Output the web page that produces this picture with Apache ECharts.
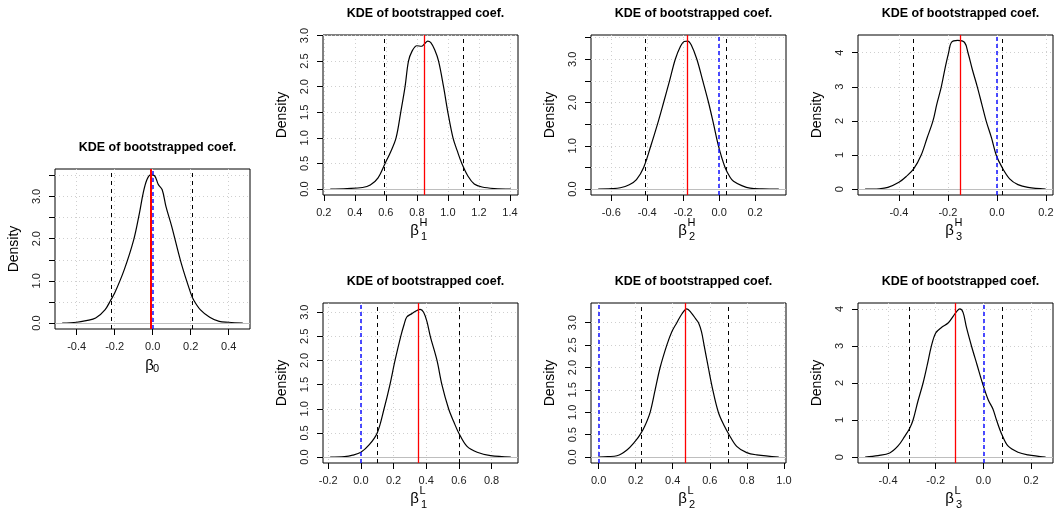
<!DOCTYPE html>
<html><head><meta charset="utf-8">
<script src="https://cdn.jsdelivr.net/npm/echarts@6/dist/echarts.min.js"></script>
<style>html,body{margin:0;padding:0;background:#fff;} #c{width:1055px;height:513px;}</style>
</head><body><div id="c"></div>
<script>
// ---------- DATA ----------
const titleText = 'KDE of bootstrapped coef.';
const xSub = ['0', '1', '2', '3', '1', '2', '3'];
const xSup = ['', 'H', 'H', 'H', 'L', 'L', 'L'];

const b0X = [-0.476,-0.4,-0.35,-0.3,-0.25,-0.22,-0.2,-0.15,-0.1,-0.07,-0.05,-0.03,-0.01,0.01,0.03,0.05,0.07,0.1,0.15,0.2,0.215,0.25,0.3,0.35,0.4,0.474];
const b0Y = [0,0.02,0.06,0.12,0.32,0.55,0.71,1.26,1.97,2.6,3.08,3.4,3.51,3.49,3.28,3.16,2.76,2.29,1.42,0.71,0.55,0.32,0.14,0.04,0.02,0];

const b1HX = [0.242,0.35,0.45,0.5,0.55,0.595,0.63,0.666,0.696,0.724,0.746,0.77,0.8,0.83,0.85,0.87,0.89,0.915,0.94,0.972,1.0,1.033,1.06,1.09,1.13,1.17,1.22,1.3,1.406];
const b1HY = [0,0.01,0.03,0.08,0.22,0.5,0.72,1.0,1.5,2.0,2.5,2.7,2.8,2.79,2.84,2.89,2.86,2.72,2.5,2.0,1.5,1.0,0.75,0.5,0.25,0.1,0.04,0.01,0];

const b2HX = [-0.673,-0.6,-0.55,-0.5,-0.46,-0.42,-0.38,-0.343,-0.309,-0.276,-0.244,-0.215,-0.195,-0.175,-0.155,-0.124,-0.091,-0.059,-0.031,-0.004,0.033,0.06,0.08,0.126,0.172,0.24,0.332];
const b2HY = [0,0.01,0.03,0.1,0.22,0.5,1.0,1.5,2.0,2.5,3.0,3.3,3.41,3.42,3.33,3.0,2.5,2.0,1.5,1.0,0.5,0.28,0.18,0.08,0.02,0.005,0];

const b3HX = [-0.538,-0.48,-0.445,-0.4,-0.37,-0.339,-0.309,-0.285,-0.261,-0.245,-0.227,-0.21,-0.197,-0.186,-0.16,-0.132,-0.118,-0.1,-0.08,-0.062,-0.044,-0.022,-0.003,0.02,0.052,0.086,0.127,0.199];
const b3HY = [0,0.01,0.05,0.2,0.37,0.6,1.0,1.5,2.0,2.5,3.0,3.6,4.0,4.3,4.36,4.3,4.0,3.5,3.0,2.5,2.0,1.5,1.0,0.65,0.3,0.13,0.05,0];

const b1LX = [-0.188,-0.1,-0.05,0,0.05,0.1,0.142,0.178,0.209,0.244,0.265,0.281,0.312,0.34,0.363,0.384,0.405,0.425,0.466,0.496,0.537,0.57,0.599,0.65,0.712,0.794,0.918];
const b1LY = [0,0.01,0.04,0.1,0.25,0.5,1.0,1.5,2.0,2.5,2.75,2.9,2.97,3.03,3.06,3.0,2.8,2.5,2.0,1.5,1.0,0.72,0.5,0.22,0.1,0.03,0];

const b2LX = [-0.002,0.05,0.099,0.153,0.197,0.224,0.25,0.278,0.305,0.332,0.368,0.395,0.422,0.45,0.476,0.5,0.525,0.539,0.555,0.569,0.592,0.616,0.646,0.675,0.704,0.745,0.799,0.853,0.972];
const b2LY = [0,0.01,0.03,0.16,0.35,0.5,0.7,1.0,1.5,2.0,2.5,2.8,3.0,3.2,3.31,3.22,3.08,3.0,2.8,2.5,2.0,1.5,1.0,0.72,0.5,0.24,0.1,0.05,0];

const b3LX = [-0.496,-0.442,-0.393,-0.358,-0.33,-0.309,-0.295,-0.275,-0.253,-0.235,-0.218,-0.2,-0.176,-0.148,-0.127,-0.11,-0.099,-0.085,-0.071,-0.05,-0.027,-0.004,0.02,0.04,0.055,0.078,0.103,0.145,0.187,0.261];
const b3LY = [0,0.04,0.11,0.3,0.56,0.78,1.0,1.5,2.0,2.5,3.0,3.35,3.5,3.62,3.8,3.95,4.0,3.9,3.5,3.0,2.5,2.0,1.55,1.3,1.0,0.6,0.3,0.13,0.06,0];

const estimate = [-0.005, 0.847, -0.185, -0.155, 0.347, 0.472, -0.115];
const ciLow    = [-0.22, 0.595, -0.411, -0.339, 0.096, 0.23, -0.309];
const ciHigh   = [0.215, 1.102, 0.039, 0.02, 0.603, 0.704, 0.078];
const zeroRef  = [0, null, 0, 0, 0, 0, 0];

const xMin = [-0.514, 0.195, -0.713, -0.567, -0.232, -0.041, -0.526];
const xMax = [0.512, 1.452, 0.372, 0.229, 0.962, 1.011, 0.292];
const yMin = [-0.14, -0.116, -0.137, -0.174, -0.123, -0.132, -0.16];
const yMax = [3.65, 3.01, 3.56, 4.52, 3.19, 3.44, 4.16];

const xTicks = [
  [-0.4, -0.2, 0, 0.2, 0.4],
  [0.2, 0.4, 0.6, 0.8, 1.0, 1.2, 1.4],
  [-0.6, -0.4, -0.2, 0, 0.2],
  [-0.4, -0.2, 0, 0.2],
  [-0.2, 0, 0.2, 0.4, 0.6, 0.8],
  [0, 0.2, 0.4, 0.6, 0.8, 1.0],
  [-0.4, -0.2, 0, 0.2]
];
const yTicks = [
  [0, 0.5, 1, 1.5, 2, 2.5, 3, 3.5],
  [0, 0.5, 1, 1.5, 2, 2.5, 3],
  [0, 0.5, 1, 1.5, 2, 2.5, 3, 3.5],
  [0, 1, 2, 3, 4],
  [0, 0.5, 1, 1.5, 2, 2.5, 3],
  [0, 0.5, 1, 1.5, 2, 2.5, 3],
  [0, 1, 2, 3, 4]
];
const yTickLabels = [
  [0, 1, 2, 3],
  [0, 0.5, 1, 1.5, 2, 2.5, 3],
  [0, 1, 2, 3],
  [0, 1, 2, 3, 4],
  [0, 0.5, 1, 1.5, 2, 2.5, 3],
  [0, 0.5, 1, 1.5, 2, 2.5, 3],
  [0, 1, 2, 3, 4]
];
const yDecimals = [1, 1, 1, 0, 1, 1, 0];

const curvesX = [b0X, b1HX, b2HX, b3HX, b1LX, b2LX, b3LX];
const curvesY = [b0Y, b1HY, b2HY, b3HY, b1LY, b2LY, b3LY];

// ---------- LAYOUT ----------
const W = 195, H = 160;
const boxes = [[55,169],[323,35],[591,35],[858,35],[323,303],[591,303],[858,303]];
const FONT = '"Liberation Sans", Arial, Helvetica, sans-serif';

const chart = echarts.init(document.getElementById('c'), null, {renderer: 'canvas'});

const gridLine = {show: true, lineStyle: {type: [1, 3], color: '#cfcfcf', width: 1}};
const grids = [], xAxes = [], yAxes = [], series = [], titles = [], graphics = [];
boxes.forEach((b, i) => {
  grids.push({left: b[0], top: b[1], width: W, height: H, show: true,
    borderColor: '#000', borderWidth: 1, backgroundColor: 'transparent',
    outerBoundsMode: 'none', containLabel: false});
  xAxes.push({type: 'value', gridIndex: i, min: xMin[i], max: xMax[i],
    axisLine: {show: false, onZero: false},
    axisTick: {show: true, inside: false, length: 6, lineStyle: {color: '#000'}, customValues: xTicks[i]},
    axisLabel: {customValues: xTicks[i], formatter: v => Number(v).toFixed(1), fontSize: 11,
      color: '#222', margin: 12, fontFamily: FONT},
    splitLine: gridLine
  });
  yAxes.push({type: 'value', gridIndex: i, min: yMin[i], max: yMax[i],
    axisLine: {show: false, onZero: false},
    axisTick: {show: true, inside: false, length: 6, lineStyle: {color: '#000'}, customValues: yTicks[i]},
    axisLabel: {customValues: yTickLabels[i], formatter: v => Number(v).toFixed(yDecimals[i]), fontSize: 11,
      color: '#222', margin: 13, rotate: 90, fontFamily: FONT},
    splitLine: gridLine,
    name: 'Density', nameLocation: 'middle', nameGap: 34,
    nameTextStyle: {fontSize: 14, color: '#000', fontFamily: FONT}
  });
  const ml = [
    {yAxis: 0, lineStyle: {color: '#bebebe', type: 'solid', width: 1}},
    {xAxis: ciLow[i], lineStyle: {color: '#000', type: [4, 4], width: 1}},
    {xAxis: ciHigh[i], lineStyle: {color: '#000', type: [4, 4], width: 1}},
    {xAxis: estimate[i], lineStyle: {color: '#ff0000', type: 'solid', width: i === 0 ? 2 : 1.3}}
  ];
  series.push({type: 'line', xAxisIndex: i, yAxisIndex: i,
    data: curvesX[i].map((x, j) => [x, curvesY[i][j]]),
    showSymbol: false, symbol: 'none', smooth: 0.35, silent: true,
    lineStyle: {color: '#000', width: 1.2},
    markLine: {silent: true, symbol: ['none', 'none'], label: {show: false}, animation: false, data: ml},
    z: 3
  });
  if (zeroRef[i] !== null) {
    series.push({type: 'line', xAxisIndex: i, yAxisIndex: i, data: [],
      silent: true, showSymbol: false, z: 4,
      markLine: {silent: true, symbol: ['none', 'none'], label: {show: false}, animation: false,
        data: [{xAxis: zeroRef[i], lineStyle: {color: '#1010ff', type: [4, 3], width: 1.5}}]}
    });
  }
  const cx = b[0] + W / 2;
  titles.push({text: titleText, left: cx, top: b[1] - 33, textAlign: 'center',
    textStyle: {fontSize: 12.5, fontWeight: 'bold', color: '#000', fontFamily: FONT}});
  const bb = b[1] + H;
  const hasSup = xSup[i] !== '';
  graphics.push({type: 'text', x: cx - (hasSup ? 6 : 3), y: bb + (hasSup ? 36 : 37),
    style: {text: 'β', font: '15px ' + FONT, fill: '#000', textAlign: 'center', textVerticalAlign: 'middle', verticalAlign: 'middle'}});
  graphics.push({type: 'text', x: cx + 0.5, y: bb + (hasSup ? 42 : 40),
    style: {text: xSub[i], font: '11px ' + FONT, fill: '#000', textAlign: 'left', textVerticalAlign: 'middle', verticalAlign: 'middle'}});
  if (hasSup) graphics.push({type: 'text', x: cx - 1, y: bb + 28,
    style: {text: xSup[i], font: '11px ' + FONT, fill: '#000', textAlign: 'left', textVerticalAlign: 'middle', verticalAlign: 'middle'}});
});

chart.setOption({
  animation: false,
  backgroundColor: '#fff',
  title: titles,
  grid: grids,
  xAxis: xAxes,
  yAxis: yAxes,
  series: series,
  graphic: graphics
});
</script></body></html>
